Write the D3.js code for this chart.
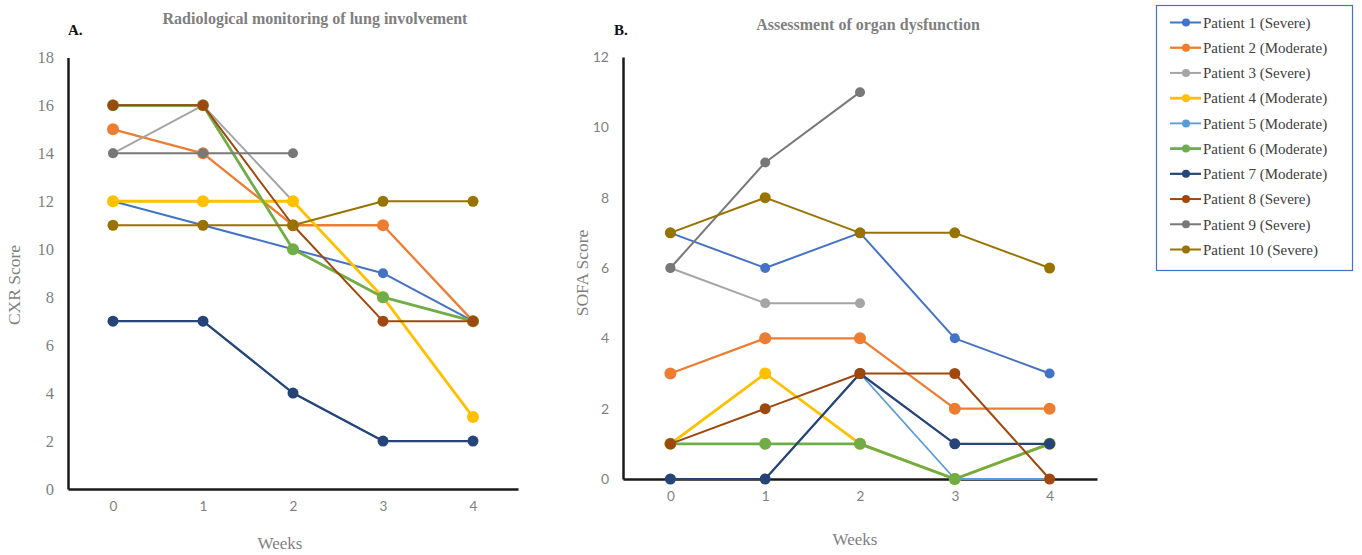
<!DOCTYPE html>
<html>
<head>
<meta charset="utf-8">
<script src="https://cdn.jsdelivr.net/npm/d3@7"></script>
<style>
html,body{margin:0;padding:0;background:#fff;}
svg{display:block;}
</style>
</head>
<body>
<svg id="chart" width="1362" height="555"></svg>
<script>
// ---------- DATA ----------
const weeks = [0, 1, 2, 3, 4];
const patientNames = [
  "Patient 1 (Severe)", "Patient 2 (Moderate)", "Patient 3 (Severe)", "Patient 4 (Moderate)",
  "Patient 5 (Moderate)", "Patient 6 (Moderate)", "Patient 7 (Moderate)", "Patient 8 (Severe)",
  "Patient 9 (Severe)", "Patient 10 (Severe)"
];
const patientColors = ["#4472C4", "#ED7D31", "#A5A5A5", "#FFC000", "#5B9BD5",
                       "#70AD47", "#264478", "#9E480E", "#787878", "#997300"];

// CXR score per week (panel A)
const cxrP1  = [12, 11, 10, 9, 7];
const cxrP2  = [15, 14, 11, 11, 7];
const cxrP3  = [14, 16, 12, null, null];
const cxrP4  = [12, 12, 12, 8, 3];
const cxrP5  = [7, 7, 4, 2, 2];
const cxrP6  = [16, 16, 10, 8, 7];
const cxrP7  = [7, 7, 4, 2, 2];
const cxrP8  = [16, 16, 11, 7, 7];
const cxrP9  = [14, 14, 14, null, null];
const cxrP10 = [11, 11, 11, 12, 12];

// SOFA score per week (panel B)
const sofaP1  = [7, 6, 7, 4, 3];
const sofaP2  = [3, 4, 4, 2, 2];
const sofaP3  = [6, 5, 5, null, null];
const sofaP4  = [1, 3, 1, 0, 1];
const sofaP5  = [0, 0, 3, 0, 0];
const sofaP6  = [1, 1, 1, 0, 1];
const sofaP7  = [0, 0, 3, 1, 1];
const sofaP8  = [1, 2, 3, 3, 0];
const sofaP9  = [6, 9, 11, null, null];
const sofaP10 = [7, 8, 7, 7, 6];

const cxrTicks = [0, 2, 4, 6, 8, 10, 12, 14, 16, 18];
const sofaTicks = [0, 2, 4, 6, 8, 10, 12];

const cxrSeries = [cxrP1, cxrP2, cxrP3, cxrP4, cxrP5, cxrP6, cxrP7, cxrP8, cxrP9, cxrP10];
const sofaSeries = [sofaP1, sofaP2, sofaP3, sofaP4, sofaP5, sofaP6, sofaP7, sofaP8, sofaP9, sofaP10];

// ---------- STYLE ----------
const lineWidths = [2, 2.3, 2, 2.8, 1.8, 2.8, 2.2, 2, 2, 2];
const markerR    = [5, 6, 5, 6, 5, 6, 5.5, 5.5, 5, 5.5];
const SERIF = "'Liberation Serif', 'Times New Roman', serif";
const SANS = "Lato, 'Liberation Sans', sans-serif";
const GRAY = "#7F7F7F";

const svg = d3.select("#chart");

function panel(cfg) {
  const x = d3.scalePoint().domain(weeks).range([cfg.left, cfg.right]).padding(0.5);
  const y = d3.scaleLinear().domain([0, cfg.max]).range([cfg.bottom, cfg.top]);
  const g = svg.append("g");

  // axes
  const yAx = g.append("g").attr("transform", `translate(${cfg.left},0)`)
    .call(d3.axisLeft(y).tickValues(cfg.ticks).tickSize(0).tickSizeOuter(0).tickPadding(14));
  yAx.select(".domain").attr("stroke", "#1a1a1a").attr("stroke-width", 2.5);
  yAx.selectAll("text").attr("font-family", cfg.yFont).attr("font-size", cfg.yFontSize)
    .attr("fill", GRAY);

  const xAx = g.append("g").attr("transform", `translate(0,${cfg.bottom})`)
    .call(d3.axisBottom(x).tickSize(0).tickSizeOuter(0).tickPadding(12));
  xAx.select(".domain").attr("stroke", "#1a1a1a").attr("stroke-width", 2.5);
  xAx.selectAll("text").attr("font-family", SANS).attr("font-size", 13.5).attr("fill", GRAY);

  // lines
  const line = d3.line().defined(d => d.v !== null).x(d => x(d.w)).y(d => y(d.v));
  cfg.series.forEach((vals, i) => {
    const pts = vals.map((v, j) => ({ w: weeks[j], v }));
    g.append("path").datum(pts).attr("d", line).attr("fill", "none")
      .attr("stroke", patientColors[i]).attr("stroke-width", lineWidths[i])
      .attr("stroke-linejoin", "round");
    g.selectAll(null).data(pts.filter(d => d.v !== null)).enter().append("circle")
      .attr("cx", d => x(d.w)).attr("cy", d => y(d.v)).attr("r", markerR[i])
      .attr("fill", patientColors[i]);
  });

  // titles
  g.append("text").attr("x", cfg.titleX).attr("y", cfg.titleY).attr("text-anchor", "middle")
    .attr("font-family", SERIF).attr("font-weight", "bold").attr("font-size", 16)
    .attr("fill", GRAY).text(cfg.title);
  g.append("text").attr("x", cfg.letterX).attr("y", 35)
    .attr("font-family", SERIF).attr("font-weight", "bold").attr("font-size", 15)
    .attr("fill", "#111").text(cfg.letter);
  g.append("text")
    .attr("transform", `translate(${cfg.yTitleX},${cfg.yTitleY}) rotate(-90)`)
    .attr("text-anchor", "middle").attr("font-family", SERIF).attr("font-size", 17.5)
    .attr("fill", GRAY).text(cfg.yTitle);
  g.append("text").attr("x", cfg.xTitleX).attr("y", cfg.xTitleY).attr("text-anchor", "middle")
    .attr("font-family", SERIF).attr("font-size", 17).attr("fill", GRAY).text("Weeks");
}

panel({
  left: 68, right: 518, top: 57.4, bottom: 489, max: 18, ticks: cxrTicks, series: cxrSeries,
  yFont: SERIF, yFontSize: 16.5,
  title: "Radiological monitoring of lung involvement", titleX: 315, titleY: 24,
  letter: "A.", letterX: 68,
  yTitle: "CXR Score", yTitleX: 20, yTitleY: 285,
  xTitleX: 280, xTitleY: 549
});

panel({
  left: 623, right: 1097, top: 57, bottom: 479, max: 12, ticks: sofaTicks, series: sofaSeries,
  yFont: SANS, yFontSize: 14,
  title: "Assessment of organ dysfunction", titleX: 868, titleY: 30,
  letter: "B.", letterX: 614,
  yTitle: "SOFA Score", yTitleX: 588, yTitleY: 273,
  xTitleX: 855, xTitleY: 545
});

// ---------- LEGEND ----------
const lg = svg.append("g");
lg.append("rect").attr("x", 1156.5).attr("y", 5.5).attr("width", 196).attr("height", 265)
  .attr("fill", "#fff").attr("stroke", "#4472C4").attr("stroke-width", 1.2);
const rowY = d3.scalePoint().domain(d3.range(patientNames.length)).range([22.5, 249.5]);
patientNames.forEach((name, i) => {
  const yy = rowY(i);
  lg.append("line").attr("x1", 1170).attr("x2", 1201).attr("y1", yy).attr("y2", yy)
    .attr("stroke", patientColors[i]).attr("stroke-width", lineWidths[i]);
  lg.append("circle").attr("cx", 1186).attr("cy", yy).attr("r", 4).attr("fill", patientColors[i]);
  lg.append("text").attr("x", 1203).attr("y", yy).attr("dy", "0.35em")
    .attr("font-family", SERIF).attr("font-size", 15).attr("fill", "#404040").text(name);
});
</script>
</body>
</html>
